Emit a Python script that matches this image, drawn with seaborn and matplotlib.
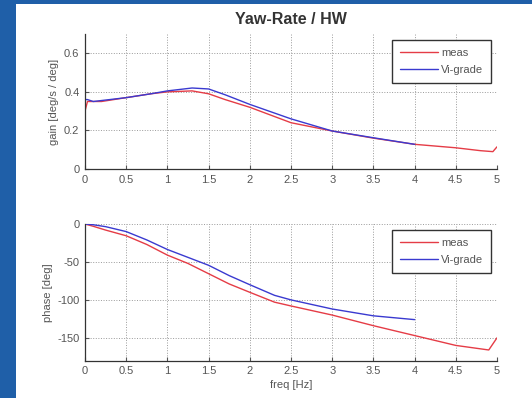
import numpy as np
import pandas as pd
import matplotlib
matplotlib.use("Agg")
import matplotlib.pyplot as plt
from matplotlib.patches import Rectangle
import seaborn as sns

# gain [deg/s / deg]
freq_meas_gain = [0, 0.03, 0.1, 0.2, 0.5, 0.8, 1.0, 1.3, 1.5, 1.7, 2.0, 2.5, 3.0, 3.5, 4.0, 4.5, 4.8, 4.95, 5.0]
meas_gain = [0.30, 0.35, 0.35, 0.35, 0.37, 0.39, 0.40, 0.405, 0.39, 0.36, 0.32, 0.24, 0.197, 0.16, 0.128, 0.11, 0.095, 0.09, 0.115]
freq_vi_gain = [0, 0.03, 0.1, 0.2, 0.5, 0.8, 1.0, 1.3, 1.5, 1.7, 2.0, 2.5, 3.0, 3.5, 4.0]
vi_gain = [0.36, 0.36, 0.35, 0.355, 0.37, 0.39, 0.405, 0.42, 0.415, 0.385, 0.335, 0.26, 0.197, 0.162, 0.128]

# phase [deg]
freq_meas_phase = [0, 0.1, 0.25, 0.5, 0.75, 1.0, 1.25, 1.5, 1.75, 2.0, 2.3, 2.5, 3.0, 3.5, 4.0, 4.5, 4.9, 5.0]
meas_phase = [0, -3, -8, -15.5, -27, -41, -52, -65.5, -79, -90, -103, -108, -120, -134, -147, -160, -166, -150]
freq_vi_phase = [0, 0.1, 0.25, 0.5, 0.75, 1.0, 1.25, 1.5, 1.75, 2.0, 2.3, 2.5, 3.0, 3.5, 4.0]
vi_phase = [0, -1, -3.5, -10, -21, -33.6, -44, -54.4, -68, -80, -94, -100, -112, -121, -126]

xticks = [0, 0.5, 1, 1.5, 2, 2.5, 3, 3.5, 4, 4.5, 5]
xticklabels = ["0", "0.5", "1", "1.5", "2", "2.5", "3", "3.5", "4", "4.5", "5"]

sns.set_style("ticks")
plt.rcParams['font.family'] = ['Liberation Sans', 'DejaVu Sans']
plt.rcParams['axes.unicode_minus'] = False

palette = {"meas": "#e53c46", "Vi-grade": "#3a3ad0"}

def make_df(f1, v1, f2, v2):
    return pd.DataFrame({
        "freq": list(f1) + list(f2),
        "val": list(v1) + list(v2),
        "src": ["meas"] * len(f1) + ["Vi-grade"] * len(f2),
    })

df_gain = make_df(freq_meas_gain, meas_gain, freq_vi_gain, vi_gain)
df_phase = make_df(freq_meas_phase, meas_phase, freq_vi_phase, vi_phase)

fig = plt.figure(figsize=(5.32, 3.98), dpi=100)
fig.patch.set_facecolor("#1f5fa8")
fig.patches.append(Rectangle((16 / 532, 0), 1 - 16 / 532, 1 - 4 / 398,
                             transform=fig.transFigure, facecolor="white",
                             edgecolor="none", zorder=-1))

ax1 = fig.add_axes([85 / 532, 1 - 169 / 398, 412 / 532, 135 / 398])
ax2 = fig.add_axes([85 / 532, 1 - 360.6 / 398, 412 / 532, 136.6 / 398])

sns.lineplot(data=df_gain, x="freq", y="val", hue="src", palette=palette,
             estimator=None, sort=False, linewidth=1.0, ax=ax1)
sns.lineplot(data=df_phase, x="freq", y="val", hue="src", palette=palette,
             estimator=None, sort=False, linewidth=1.0, ax=ax2)

ax1.set_ylim(0, 0.7)
ax1.set_yticks([0, 0.2, 0.4, 0.6])
ax1.set_yticklabels(["0", "0.2", "0.4", "0.6"])
ax2.set_ylim(-180, 0)
ax2.set_yticks([-150, -100, -50, 0])

for ax in (ax1, ax2):
    ax.set_facecolor("white")
    ax.set_xlim(0, 5)
    ax.set_xticks(xticks)
    ax.set_xticklabels(xticklabels)
    ax.grid(True, linestyle=":", color="#9a9a9a", linewidth=0.7)
    ax.tick_params(direction="in", length=3, labelsize=8, colors="#555555", pad=4)
    for s in ("top", "right"):
        ax.spines[s].set_visible(False)
    for s in ("left", "bottom"):
        ax.spines[s].set_color("#333333")
        ax.spines[s].set_linewidth(0.9)
    leg = ax.legend(loc="upper right", fontsize=8, frameon=True, fancybox=False,
                    edgecolor="#333333", framealpha=1, handlelength=3.4,
                    borderaxespad=0.5, borderpad=0.75, labelspacing=0.6,
                    handletextpad=0.3)
    leg.get_frame().set_linewidth(1.0)
    for t in leg.get_texts():
        t.set_color("#555555")

ax1.set_xlabel("")
ax1.set_ylabel("gain [deg/s / deg]", fontsize=8, color="#555555", labelpad=4)
ax2.set_ylabel("phase [deg]", fontsize=8, color="#555555", labelpad=3)
ax2.set_xlabel("freq [Hz]", fontsize=8, color="#555555", labelpad=3)
ax1.set_title("Yaw-Rate / HW", fontsize=11.5, fontweight="bold", color="#333333", pad=7)

fig.savefig("out.png", dpi=100, facecolor=fig.get_facecolor())
